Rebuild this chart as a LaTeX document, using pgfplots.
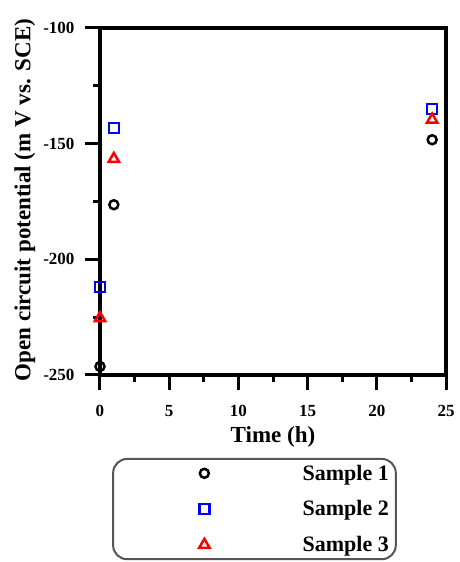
\documentclass[border=0pt]{standalone}
\usepackage{fontspec}
\setmainfont{Liberation Serif}
\usepackage{pgfplots}
\pgfplotsset{compat=1.18}
\definecolor{legbord}{RGB}{85,85,85}
\begin{document}
\begin{tikzpicture}[x=1pt,y=1pt]
\useasboundingbox (0,0) rectangle (459,562);
\begin{axis}[
  at={(100pt,187pt)}, anchor=south west,
  scale only axis, width=346pt, height=347pt,
  xmin=0, xmax=25, ymin=-250, ymax=-100,
  xtick={0,5,10,15,20,25},
  minor xtick={2.5,7.5,12.5,17.5,22.5},
  ytick={-250,-200,-150,-100},
  minor ytick={-225,-175,-125},
  tick pos=left, tick align=outside,
  major tick length=15pt, minor tick length=7pt,
  every tick/.style={black, line width=3pt},
  axis line style={line width=3.5pt},
  /pgf/number format/assume math mode=true,
  ticklabel style={font=\fontsize{17}{20}\selectfont\bfseries},
  xticklabel style={yshift=-12pt},
  yticklabel style={xshift=-7pt},
  xlabel={Time (h)},
  ylabel={Open circuit potential (m V vs. SCE)},
  label style={font=\fontsize{23}{27}\selectfont\bfseries},
  xlabel style={at={(axis description cs:0.5,-0.179)}, anchor=center},
  ylabel style={at={(axis description cs:-0.217,0.504)}, anchor=center, rotate=0},
  legend style={at={(0.035,-0.239)}, anchor=north west, draw=legbord,
    line width=2pt, rounded corners=14pt, inner xsep=5pt, inner ysep=4pt,
    row sep=15pt, font=\fontsize{22}{26}\selectfont\bfseries},
  legend image code/.code={\path (0pt,0pt) (180pt,0pt); \draw[#1] plot coordinates {(85pt,0pt)};},
]
\addplot[only marks, mark=o, mark size=4.5pt, line width=2.5pt, black]
  coordinates {(0,-246.3) (1,-176.4) (24,-148.3)};
\addlegendentry{Sample 1}
\addplot[only marks, mark=square, mark size=5pt, line width=2.5pt, blue]
  coordinates {(0,-212) (1,-143.2) (24,-135)};
\addlegendentry{Sample 2}
\addplot[only marks, mark=triangle, mark size=6pt, line width=2.5pt, red]
  coordinates {(0,-225.4) (1,-156.6) (24,-139.6)};
\addlegendentry{Sample 3}
\end{axis}
\end{tikzpicture}
\end{document}
